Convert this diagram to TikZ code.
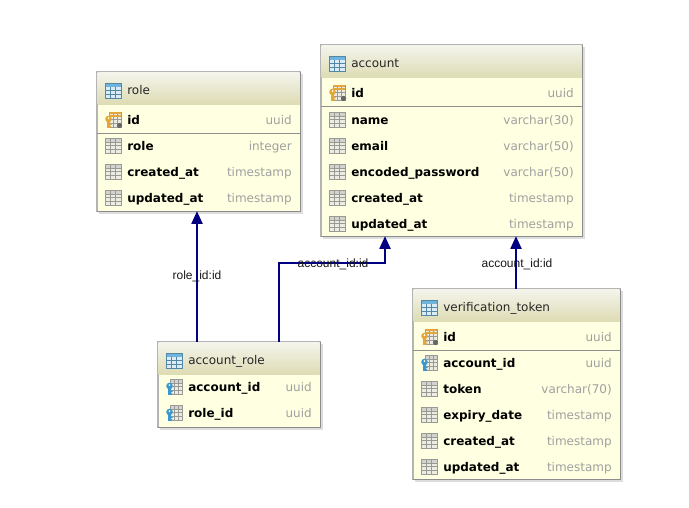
\documentclass[tikz,border=0pt]{standalone}
\usepackage{fontspec}
\setmainfont{DejaVu Sans}
\newfontfamily\lblfont{Liberation Sans}
\usetikzlibrary{arrows.meta,fit}
\definecolor{bodyc}{HTML}{FFFFE1}
\definecolor{hdtop}{HTML}{F4F4EC}
\definecolor{hdbot}{HTML}{DEDCB4}
\definecolor{bordc}{HTML}{B4B4B4}
\definecolor{borddk}{HTML}{8C8C8C}
\definecolor{sepc}{HTML}{8F8F8F}
\definecolor{typec}{HTML}{A0A0A0}
\definecolor{navyc}{HTML}{000080}
\definecolor{icblue}{HTML}{6EB4DD}
\definecolor{icgray}{HTML}{9A9A94}
\definecolor{icfill}{HTML}{ECECE2}
\definecolor{keygold}{HTML}{E2A63C}
\definecolor{keyblue}{HTML}{3A97CF}
\definecolor{shadc}{HTML}{DDDDDD}
\tikzset{
  tblbox/.style={draw=bordc, fill=bodyc, inner sep=0pt},
  hdtext/.style={anchor=base west, inner sep=0pt, font=\fontsize{9}{11}\selectfont, text=black!85},
  colname/.style={anchor=base west, inner sep=0pt, font=\fontsize{9}{11}\selectfont\bfseries, text=black},
  coltype/.style={anchor=base east, inner sep=0pt, font=\fontsize{9}{11}\selectfont, text=typec},
  lbl/.style={inner sep=0pt, font=\lblfont\fontsize{9}{11}\selectfont, text=black!90},
  fk/.style={draw=navyc, line width=0.85pt, -{Triangle[width=8.5pt,length=9.5pt]}},
  tblic/.pic={
    \fill[icblue!25!white] (0,1) rectangle (16,16);
    \fill[icblue] (0,1) rectangle (16,5);
    \draw[icblue!75!black, line width=0.5pt] (0,1) rectangle (16,16)
      (5.3,5)--(5.3,16) (10.7,5)--(10.7,16) (0,8.7)--(16,8.7) (0,12.4)--(16,12.4);
  },
  colic/.pic={
    \fill[icfill] (0,1) rectangle (16,16);
    \fill[icgray!45] (0,1) rectangle (16,5);
    \draw[icgray, line width=0.5pt] (0,1) rectangle (16,16)
      (5.3,1)--(5.3,16) (10.7,1)--(10.7,16) (0,5)--(16,5) (0,8.7)--(16,8.7) (0,12.4)--(16,12.4);
  },
  pkic/.pic={
    \fill[icfill] (4,1) rectangle (16,16);
    \draw[icgray, line width=0.5pt] (4,1) rectangle (16,16)
      (8,1)--(8,16) (12,1)--(12,16) (4,8.7)--(16,8.7) (4,12.4)--(16,12.4);
    \draw[keygold, line width=1.2pt] (4,2)--(16,2) (4,5)--(16,5);
    \fill[keygold] (3.5,8) circle (3.3);
    \fill[keygold] (2.3,10) rectangle (4.7,16.5);
    \fill[keygold] (4.7,12.5) rectangle (6.5,14) (4.7,15) rectangle (6,16.5);
    \fill[bodyc] (3.5,7) circle (1);
    \fill[black!60] (14.5,14.5) circle (2.6);
  },
  fkic/.pic={
    \fill[icfill] (4,1) rectangle (16,16);
    \fill[icgray!45] (4,1) rectangle (16,5);
    \draw[icgray, line width=0.5pt] (4,1) rectangle (16,16)
      (8,1)--(8,16) (12,1)--(12,16) (4,5)--(16,5) (4,8.7)--(16,8.7) (4,12.4)--(16,12.4);
    \fill[keyblue] (3.5,8) circle (3.3);
    \fill[keyblue] (2.3,10) rectangle (4.7,16.5);
    \fill[keyblue] (4.7,12.5) rectangle (6.5,14) (4.7,15) rectangle (6,16.5);
    \fill[bodyc] (3.5,7) circle (1);
  },
}
% #1 name, #2 x0, #3 y0, #4 x1, #5 y1, #6 title
\newcommand\dbtab[6]{%
  \fill[shadc] (#2+2,#3+2) rectangle (#4+3,#5+3);
  \node[tblbox, fit={(#2,#3) (#4,#5)}] (#1) {};
  \shade[top color=hdtop, bottom color=hdbot] (#2+0.5,#3+0.5) rectangle (#4-0.5,#3+32);
  \draw[bordc] (#1.north west) rectangle (#1.south east);
  \draw[borddk] (#1.north east) -- (#1.south east) -- (#1.south west);
  \pic at (#2+8,#3+10) {tblic};
  \node[hdtext] (#1-title) at (#2+30,#3+22) {#6};
}
% #1 node name, #2 x0, #3 x1, #4 yc, #5 icon, #6 col, #7 type
\newcommand\dbrow[7]{%
  \pic at (#2+8,#4-9) {#5};
  \node[colname] (#1) at (#2+30,#4+4.5) {#6};
  \node[coltype] (#1-t) at (#3-8,#4+4.5) {#7};
}
\begin{document}
\begin{tikzpicture}[x=0.75pt,y=-0.75pt]
\useasboundingbox (0,0) rectangle (689,507);
\fill[white] (0,0) rectangle (689,507);

% role
\dbtab{role}{97}{72}{300}{211}{role}
\dbrow{role-id}{97}{300}{120}{pkic}{id}{uuid}
\draw[sepc] (97,133) -- (300,133);
\dbrow{role-role}{97}{300}{146}{colic}{role}{integer}
\dbrow{role-ca}{97}{300}{172}{colic}{created\_at}{timestamp}
\dbrow{role-ua}{97}{300}{198}{colic}{updated\_at}{timestamp}

% account
\dbtab{account}{321}{45}{582}{236}{account}
\dbrow{acc-id}{321}{582}{93}{pkic}{id}{uuid}
\draw[sepc] (321,106) -- (582,106);
\dbrow{acc-name}{321}{582}{120}{colic}{name}{varchar(30)}
\dbrow{acc-email}{321}{582}{146}{colic}{email}{varchar(50)}
\dbrow{acc-pw}{321}{582}{172}{colic}{encoded\_password}{varchar(50)}
\dbrow{acc-ca}{321}{582}{198}{colic}{created\_at}{timestamp}
\dbrow{acc-ua}{321}{582}{224}{colic}{updated\_at}{timestamp}

% account_role
\dbtab{ar}{158}{342}{320}{427}{account\_role}
\dbrow{ar-acc}{158}{320}{387}{fkic}{account\_id}{uuid}
\dbrow{ar-role}{158}{320}{413}{fkic}{role\_id}{uuid}

% verification_token
\dbtab{vt}{413}{289}{620}{479}{verification\_token}
\dbrow{vt-id}{413}{620}{337}{pkic}{id}{uuid}
\draw[sepc] (413,350) -- (620,350);
\dbrow{vt-acc}{413}{620}{363}{fkic}{account\_id}{uuid}
\dbrow{vt-tok}{413}{620}{389}{colic}{token}{varchar(70)}
\dbrow{vt-exp}{413}{620}{415}{colic}{expiry\_date}{timestamp}
\dbrow{vt-ca}{413}{620}{441}{colic}{created\_at}{timestamp}
\dbrow{vt-ua}{413}{620}{467}{colic}{updated\_at}{timestamp}

% connectors
\coordinate (b1) at (279,263);
\coordinate (b2) at (385,263);
\draw[fk] (ar.north -| 197,0) -- (role.south -| 197,0);
\draw[fk] (ar.north -| b1) -- (b1) -- (b2) -- (account.south -| b2);
\draw[fk] (vt.north -| 516,0) -- (account.south -| 516,0);

\node[lbl] (l1) at (197,276) {role\_id:id};
\node[lbl] (l2) at (333,264) {account\_id:id};
\node[lbl] (l3) at (517,264) {account\_id:id};
\end{tikzpicture}
\end{document}
